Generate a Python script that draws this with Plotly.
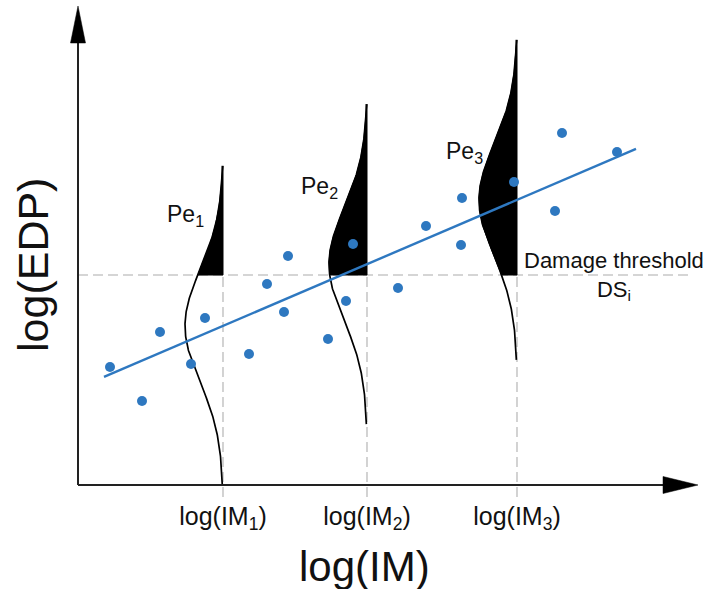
import numpy as np
import plotly.graph_objects as go

# ---------------- data (schematic log units) ----------------
pts_x = [0.32, 0.64, 0.82, 1.13, 1.27, 1.71, 1.89, 2.06, 2.10, 2.50,
         2.68, 2.75, 3.20, 3.48, 3.83, 3.84, 4.36, 4.77, 4.84, 5.39]
pts_y = [1.18, 0.84, 1.53, 1.21, 1.67, 1.31, 2.01, 1.73, 2.29, 1.46,
         1.84, 2.41, 1.97, 2.59, 2.40, 2.87, 3.03, 2.74, 3.52, 3.33]

fit_intercept = 0.97
fit_slope = 0.4285
fit_x = [0.26, 5.58]

im_values = [1.45, 2.89, 4.39]
im_labels = ["log(IM<sub>1</sub>)", "log(IM<sub>2</sub>)", "log(IM<sub>3</sub>)"]
pe_labels = ["Pe<sub>1</sub>", "Pe<sub>2</sub>", "Pe<sub>3</sub>"]

threshold = 2.10          # damage threshold DS_i
pdf_peak = 0.38           # drawn height of the conditional PDF
pdf_sigma = 0.56          # dispersion
pdf_halfspan = 1.6        # truncation of the drawn PDF

# axis extents
x_axis_end = 5.90
y_axis_end = 4.45

# ---------------- styles / positions ----------------
BLUE = "#2E78C0"
GRAY = "#c8c8c8"
AXC = "#222222"
FONT = "Liberation Sans, Arial, sans-serif"
pe_pos = [(0.87, 2.70), (2.21, 2.98), (3.66, 3.33)]

fig = go.Figure()

# threshold dashed line
fig.add_trace(go.Scatter(x=[0, 6.14], y=[threshold, threshold], mode="lines",
                         line=dict(color=GRAY, width=1.6, dash="10px,5px"),
                         hoverinfo="skip"))
# vertical dashed lines at IM values
for im in im_values:
    fig.add_trace(go.Scatter(x=[im, im], y=[-0.12, threshold], mode="lines",
                             line=dict(color=GRAY, width=1.6, dash="10px,5px"),
                             hoverinfo="skip"))

# PDFs
for im in im_values:
    mu = fit_intercept + fit_slope * im
    yy = np.linspace(mu - pdf_halfspan, mu + pdf_halfspan, 300)
    xx = im - pdf_peak * np.exp(-(yy - mu) ** 2 / (2 * pdf_sigma ** 2))
    # filled exceedance region
    ys = np.linspace(threshold, mu + pdf_halfspan, 200)
    xs = im - pdf_peak * np.exp(-(ys - mu) ** 2 / (2 * pdf_sigma ** 2))
    fx = [im] + list(xs) + [im, im]
    fy = [threshold] + list(ys) + [ys[-1], threshold]
    fig.add_trace(go.Scatter(x=fx, y=fy, mode="lines", fill="toself",
                             fillcolor="black", line=dict(color="black", width=1),
                             hoverinfo="skip"))
    fig.add_trace(go.Scatter(x=xx, y=yy, mode="lines",
                             line=dict(color="black", width=1.7), hoverinfo="skip"))

# regression line
fit_y = [fit_intercept + fit_slope * v for v in fit_x]
fig.add_trace(go.Scatter(x=fit_x, y=fit_y, mode="lines",
                         line=dict(color=BLUE, width=2.4), hoverinfo="skip"))
# points
fig.add_trace(go.Scatter(x=pts_x, y=pts_y, mode="markers",
                         marker=dict(color=BLUE, size=10), hoverinfo="skip"))

# axes with arrows
fig.add_trace(go.Scatter(x=[0, x_axis_end], y=[0, 0], mode="lines",
                         line=dict(color=AXC, width=2), hoverinfo="skip"))
fig.add_trace(go.Scatter(x=[0, 0], y=[0, y_axis_end], mode="lines",
                         line=dict(color=AXC, width=2), hoverinfo="skip"))
fig.add_trace(go.Scatter(x=[x_axis_end - 0.05, x_axis_end - 0.05, x_axis_end + 0.30, x_axis_end - 0.05],
                         y=[-0.085, 0.085, 0, -0.085], mode="lines", fill="toself",
                         fillcolor="black", line=dict(color="black", width=0.5), hoverinfo="skip"))
fig.add_trace(go.Scatter(x=[-0.075, 0.075, 0, -0.075],
                         y=[y_axis_end - 0.03, y_axis_end - 0.03, y_axis_end + 0.34, y_axis_end - 0.03],
                         mode="lines", fill="toself",
                         fillcolor="black", line=dict(color="black", width=0.5), hoverinfo="skip"))

annotations = []
for lab, (px, py) in zip(pe_labels, pe_pos):
    annotations.append(dict(x=px, y=py, xref="x", yref="y", text=lab, showarrow=False,
                            xanchor="left", yanchor="middle",
                            font=dict(family=FONT, size=23, color="#111")))
annotations.append(dict(x=5.36, y=2.09, xref="x", yref="y",
                        text="Damage threshold<br>DS<sub>i</sub>", showarrow=False,
                        xanchor="center", yanchor="middle", align="center",
                        font=dict(family=FONT, size=22, color="#111")))
annotations.append(dict(x=2.86, y=-0.81, xref="x", yref="y", text="log(IM)",
                        showarrow=False, xanchor="center", yanchor="middle",
                        font=dict(family=FONT, size=42, color="#111")))
annotations.append(dict(x=-0.45, y=2.20, xref="x", yref="y", text="log(EDP)",
                        showarrow=False, xanchor="center", yanchor="middle", textangle=-90,
                        font=dict(family=FONT, size=43, color="#111")))

fig.update_layout(
    width=709, height=589, margin=dict(l=0, r=0, t=0, b=0),
    paper_bgcolor="white", plot_bgcolor="white", showlegend=False,
    annotations=annotations,
    xaxis=dict(range=[-0.78, 6.31], showgrid=False, zeroline=False, showline=False,
               tickvals=im_values, ticktext=im_labels, ticks="",
               tickfont=dict(family=FONT, size=25, color="#111"),
               anchor="free", position=104 / 589, ticklabelstandoff=14,
               automargin=False, fixedrange=True),
    yaxis=dict(range=[-1.04, 4.85], showgrid=False, zeroline=False, showline=False,
               showticklabels=False, ticks="", automargin=False, fixedrange=True),
)

fig.write_html("out.html")
